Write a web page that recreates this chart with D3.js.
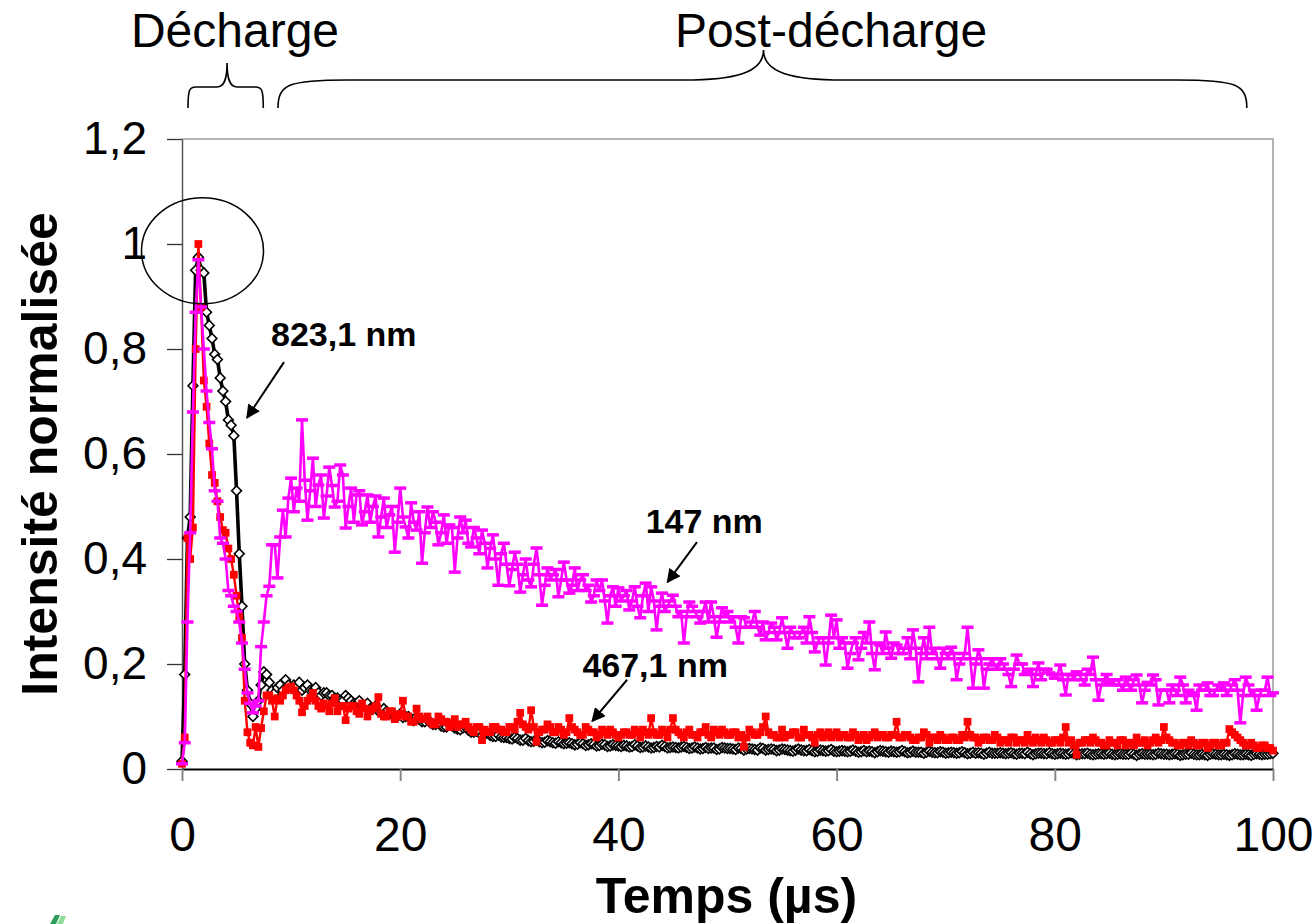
<!DOCTYPE html>
<html><head><meta charset="utf-8">
<script src="https://cdn.jsdelivr.net/npm/d3@7"></script>
<style>
body{margin:0;background:#fff}
svg{display:block}
text{font-family:"Liberation Sans",Arial,Helvetica,sans-serif}
</style>
</head><body>
<svg id="chart" width="1315" height="924"></svg>
<script>
// ---------- DATA ----------
const timeUs = [
0,0.25,0.5,0.75,1,1.25,1.5,1.75,2,2.25,2.5,2.75,3,3.25,3.5,3.75,4,4.25,4.5,4.75,
5,5.25,5.5,5.75,6,6.25,6.5,6.75,7,7.25,7.5,7.75,8,8.25,8.5,8.75,9,9.25,9.5,9.75,10,
10.25,10.5,10.75,11,11.25,11.5,11.75,12,12.25,12.5,12.75,13,13.25,13.5,13.75,14,14.25,14.5,14.75,15,
15.25,15.5,15.75,16,16.25,16.5,16.75,17,17.25,17.5,17.75,18,18.25,18.5,18.75,19,19.25,19.5,19.75,20,
20.25,20.5,20.75,21,21.25,21.5,21.75,22,22.25,22.5,22.75,23,23.25,23.5,23.75,24,24.25,24.5,24.75,25,
25.25,25.5,25.75,26,26.25,26.5,26.75,27,27.25,27.5,27.75,28,28.25,28.5,28.75,29,29.25,29.5,29.75,30,
30.25,30.5,30.75,31,31.25,31.5,31.75,32,32.25,32.5,32.75,33,33.25,33.5,33.75,34,34.25,34.5,34.75,35,
35.25,35.5,35.75,36,36.25,36.5,36.75,37,37.25,37.5,37.75,38,38.25,38.5,38.75,39,39.25,39.5,39.75,40,
40.25,40.5,40.75,41,41.25,41.5,41.75,42,42.25,42.5,42.75,43,43.25,43.5,43.75,44,44.25,44.5,44.75,45,
45.25,45.5,45.75,46,46.25,46.5,46.75,47,47.25,47.5,47.75,48,48.25,48.5,48.75,49,49.25,49.5,49.75,50,
50.25,50.5,50.75,51,51.25,51.5,51.75,52,52.25,52.5,52.75,53,53.25,53.5,53.75,54,54.25,54.5,54.75,55,
55.25,55.5,55.75,56,56.25,56.5,56.75,57,57.25,57.5,57.75,58,58.25,58.5,58.75,59,59.25,59.5,59.75,60,
60.25,60.5,60.75,61,61.25,61.5,61.75,62,62.25,62.5,62.75,63,63.25,63.5,63.75,64,64.25,64.5,64.75,65,
65.25,65.5,65.75,66,66.25,66.5,66.75,67,67.25,67.5,67.75,68,68.25,68.5,68.75,69,69.25,69.5,69.75,70,
70.25,70.5,70.75,71,71.25,71.5,71.75,72,72.25,72.5,72.75,73,73.25,73.5,73.75,74,74.25,74.5,74.75,75,
75.25,75.5,75.75,76,76.25,76.5,76.75,77,77.25,77.5,77.75,78,78.25,78.5,78.75,79,79.25,79.5,79.75,80,
80.25,80.5,80.75,81,81.25,81.5,81.75,82,82.25,82.5,82.75,83,83.25,83.5,83.75,84,84.25,84.5,84.75,85,
85.25,85.5,85.75,86,86.25,86.5,86.75,87,87.25,87.5,87.75,88,88.25,88.5,88.75,89,89.25,89.5,89.75,90,
90.25,90.5,90.75,91,91.25,91.5,91.75,92,92.25,92.5,92.75,93,93.25,93.5,93.75,94,94.25,94.5,94.75,95,
95.25,95.5,95.75,96,96.25,96.5,96.75,97,97.25,97.5,97.75,98,98.25,98.5,98.75,99,99.25,99.5,99.75,100
];

// 823,1 nm (black, hollow diamonds)
const line823 = [
0.015,0.18,0.44,0.48,0.73,0.95,0.975,0.95,0.945,0.87,0.845,0.82,0.79,0.78,0.745,0.72,0.70,0.665,0.655,0.635,
0.53,0.41,0.31,0.20,0.15,0.125,0.10,0.115,0.13,0.16,0.185,0.18,0.165,0.15,0.145,0.155,0.16,0.15,0.17,0.16,0.155,
0.16,0.155,0.165,0.15,0.155,0.16,0.15,0.15,0.155,0.145,0.14,0.145,0.145,0.14,0.14,0.135,0.135,0.13,0.13,0.14,
0.135,0.13,0.125,0.125,0.13,0.12,0.12,0.125,0.115,0.115,0.12,0.11,0.11,0.115,0.11,0.105,0.105,0.1,0.1,0.105,
0.098,0.1,0.1,0.095,0.092,0.1,0.095,0.09,0.09,0.095,0.088,0.085,0.085,0.09,0.082,0.08,0.08,0.085,0.082,0.078,
0.076,0.075,0.078,0.08,0.074,0.07,0.07,0.072,0.068,0.065,0.066,0.068,0.064,0.062,0.062,0.065,0.061,0.06,0.06,0.058,
0.057,0.06,0.058,0.055,0.055,0.058,0.054,0.052,0.053,0.056,0.052,0.05,0.051,0.054,0.052,0.05,0.049,0.052,0.05,0.048,
0.049,0.05,0.048,0.046,0.047,0.05,0.048,0.045,0.046,0.048,0.047,0.044,0.045,0.047,0.046,0.043,0.044,0.046,0.045,0.044,
0.043,0.045,0.044,0.042,0.043,0.046,0.044,0.041,0.042,0.044,0.042,0.04,0.041,0.043,0.042,0.045,0.043,0.04,0.041,0.042,
0.041,0.04,0.042,0.043,0.041,0.039,0.04,0.042,0.04,0.038,0.039,0.041,0.039,0.04,0.04,0.037,0.038,0.041,0.04,0.039,
0.039,0.038,0.037,0.04,0.039,0.036,0.038,0.039,0.038,0.037,0.036,0.04,0.039,0.036,0.037,0.038,0.037,0.035,0.036,0.038,
0.037,0.036,0.035,0.034,0.036,0.038,0.036,0.035,0.035,0.037,0.035,0.033,0.034,0.036,0.035,0.034,0.035,0.037,0.034,0.033,
0.034,0.035,0.034,0.033,0.034,0.036,0.034,0.032,0.033,0.035,0.033,0.034,0.033,0.031,0.033,0.035,0.034,0.033,0.032,0.034,
0.033,0.032,0.033,0.035,0.033,0.031,0.032,0.034,0.032,0.032,0.032,0.03,0.032,0.034,0.032,0.031,0.031,0.033,0.032,0.03,
0.031,0.032,0.031,0.03,0.031,0.033,0.031,0.029,0.03,0.032,0.03,0.031,0.03,0.028,0.03,0.032,0.03,0.03,0.03,0.031,
0.03,0.029,0.03,0.031,0.029,0.028,0.03,0.03,0.029,0.032,0.029,0.027,0.029,0.03,0.03,0.029,0.029,0.031,0.029,0.028,
0.029,0.03,0.029,0.028,0.029,0.031,0.029,0.027,0.028,0.029,0.029,0.03,0.028,0.027,0.028,0.029,0.029,0.028,0.029,0.03,
0.028,0.027,0.028,0.029,0.028,0.028,0.028,0.03,0.028,0.026,0.028,0.029,0.028,0.028,0.028,0.027,0.028,0.03,0.029,0.028,
0.028,0.027,0.028,0.029,0.028,0.026,0.027,0.028,0.028,0.03,0.028,0.027,0.027,0.028,0.027,0.026,0.028,0.029,0.028,0.027,
0.027,0.028,0.027,0.026,0.027,0.029,0.028,0.027,0.027,0.028,0.027,0.026,0.028,0.029,0.028,0.027,0.028,0.028,0.029,0.03
];

// 467,1 nm (red, filled squares)
const line467 = [
0.01,0.06,0.44,0.40,0.46,0.80,1.0,0.88,0.74,0.69,0.62,0.56,0.545,0.51,0.48,0.455,0.45,0.42,0.40,0.37,
0.33,0.29,0.25,0.13,0.07,0.05,0.045,0.08,0.042,0.078,0.11,0.14,0.14,0.13,0.10,0.135,0.13,0.14,0.15,0.155,0.157,
0.15,0.14,0.13,0.108,0.12,0.13,0.135,0.145,0.13,0.12,0.115,0.125,0.12,0.11,0.125,0.135,0.11,0.12,0.12,0.093,
0.115,0.12,0.12,0.11,0.105,0.125,0.115,0.10,0.11,0.115,0.12,0.137,0.105,0.10,0.1,0.11,0.11,0.095,0.1,0.105,
0.13,0.10,0.1,0.09,0.09,0.115,0.1,0.095,0.095,0.10,0.09,0.085,0.085,0.10,0.095,0.09,0.09,0.08,0.085,0.095,
0.08,0.085,0.085,0.09,0.08,0.075,0.07,0.08,0.08,0.055,0.075,0.07,0.07,0.08,0.08,0.075,0.075,0.07,0.07,0.08,
0.08,0.075,0.09,0.107,0.085,0.08,0.075,0.112,0.08,0.052,0.07,0.075,0.075,0.085,0.08,0.07,0.07,0.08,0.075,0.065,
0.07,0.097,0.08,0.075,0.07,0.065,0.065,0.08,0.075,0.07,0.07,0.06,0.065,0.075,0.07,0.065,0.075,0.07,0.065,0.06,
0.065,0.07,0.07,0.065,0.065,0.075,0.07,0.06,0.075,0.07,0.065,0.097,0.07,0.065,0.065,0.075,0.07,0.06,0.075,0.097,
0.075,0.07,0.065,0.06,0.07,0.075,0.065,0.065,0.06,0.07,0.07,0.08,0.065,0.06,0.075,0.07,0.065,0.075,0.07,0.065,
0.065,0.07,0.07,0.06,0.065,0.042,0.06,0.075,0.07,0.065,0.065,0.07,0.08,0.1,0.07,0.065,0.065,0.06,0.06,0.075,
0.06,0.065,0.065,0.07,0.07,0.06,0.06,0.075,0.065,0.065,0.06,0.05,0.065,0.07,0.06,0.065,0.07,0.06,0.065,0.07,
0.06,0.065,0.065,0.06,0.06,0.07,0.065,0.055,0.06,0.065,0.055,0.06,0.065,0.07,0.06,0.065,0.065,0.06,0.06,0.065,
0.065,0.09,0.06,0.06,0.065,0.065,0.06,0.055,0.055,0.06,0.06,0.07,0.065,0.05,0.06,0.06,0.055,0.065,0.06,0.055,
0.055,0.06,0.06,0.055,0.055,0.065,0.06,0.09,0.065,0.06,0.06,0.05,0.055,0.06,0.06,0.055,0.055,0.065,0.06,0.05,
0.055,0.055,0.05,0.06,0.06,0.05,0.055,0.055,0.05,0.065,0.055,0.05,0.06,0.055,0.05,0.06,0.055,0.05,0.05,0.055,
0.055,0.05,0.06,0.08,0.05,0.055,0.045,0.027,0.05,0.05,0.055,0.055,0.05,0.06,0.055,0.05,0.05,0.045,0.045,0.055,
0.05,0.05,0.045,0.055,0.055,0.045,0.05,0.05,0.045,0.06,0.05,0.05,0.055,0.045,0.05,0.055,0.06,0.05,0.055,0.08,
0.06,0.055,0.05,0.05,0.045,0.045,0.05,0.05,0.045,0.055,0.05,0.045,0.045,0.05,0.05,0.04,0.045,0.05,0.05,0.045,
0.045,0.05,0.05,0.076,0.07,0.065,0.06,0.055,0.05,0.045,0.045,0.05,0.045,0.04,0.04,0.045,0.045,0.04,0.04,0.035
];

// 147 nm (magenta, dash markers)
const line147 = [
0.01,0.05,0.28,0.45,0.68,0.87,0.97,0.88,0.80,0.72,0.66,0.61,0.53,0.51,0.44,0.43,0.40,0.34,0.33,0.31,
0.30,0.28,0.24,0.19,0.145,0.125,0.107,0.12,0.13,0.233,0.28,0.33,0.348,0.427,0.427,0.364,0.442,0.493,0.442,0.516,0.554,
0.49,0.535,0.51,0.665,0.55,0.474,0.53,0.592,0.50,0.541,0.56,0.478,0.52,0.575,0.54,0.499,0.51,0.579,0.56,0.459,
0.50,0.535,0.47,0.522,0.53,0.465,0.49,0.522,0.47,0.50,0.52,0.442,0.48,0.516,0.46,0.484,0.50,0.413,0.47,0.535,
0.48,0.461,0.44,0.507,0.47,0.455,0.49,0.392,0.45,0.499,0.46,0.49,0.47,0.427,0.45,0.484,0.43,0.465,0.46,0.375,
0.44,0.48,0.45,0.474,0.43,0.423,0.46,0.44,0.41,0.455,0.43,0.383,0.42,0.446,0.40,0.35,0.41,0.43,0.39,0.349,
0.38,0.413,0.39,0.337,0.37,0.40,0.36,0.347,0.39,0.421,0.37,0.312,0.35,0.383,0.36,0.37,0.38,0.328,0.36,0.394,
0.36,0.335,0.35,0.383,0.34,0.36,0.37,0.34,0.35,0.318,0.33,0.36,0.34,0.36,0.32,0.278,0.33,0.347,0.31,0.345,
0.32,0.33,0.34,0.303,0.32,0.347,0.31,0.288,0.33,0.354,0.30,0.347,0.32,0.265,0.31,0.335,0.30,0.31,0.32,0.331,
0.31,0.29,0.30,0.24,0.29,0.318,0.31,0.30,0.29,0.278,0.30,0.318,0.28,0.318,0.29,0.251,0.28,0.307,0.29,0.30,
0.28,0.29,0.27,0.24,0.29,0.288,0.27,0.27,0.28,0.30,0.27,0.255,0.28,0.246,0.26,0.278,0.27,0.246,0.26,0.288,
0.26,0.23,0.27,0.26,0.25,0.25,0.26,0.27,0.24,0.29,0.26,0.223,0.24,0.25,0.25,0.198,0.24,0.293,0.25,0.284,
0.23,0.25,0.24,0.192,0.22,0.24,0.25,0.208,0.23,0.26,0.24,0.28,0.22,0.189,0.24,0.236,0.22,0.261,0.23,0.211,
0.24,0.236,0.22,0.22,0.23,0.25,0.21,0.265,0.23,0.166,0.22,0.25,0.21,0.27,0.22,0.23,0.21,0.192,0.23,0.22,
0.21,0.232,0.22,0.17,0.20,0.21,0.22,0.27,0.21,0.154,0.20,0.227,0.21,0.154,0.19,0.20,0.21,0.198,0.19,0.21,
0.20,0.19,0.18,0.157,0.19,0.217,0.20,0.20,0.18,0.185,0.19,0.157,0.18,0.202,0.17,0.19,0.19,0.183,0.18,0.173,
0.18,0.198,0.17,0.141,0.18,0.18,0.17,0.185,0.18,0.17,0.16,0.19,0.18,0.213,0.17,0.131,0.16,0.17,0.18,0.165,
0.16,0.17,0.17,0.16,0.15,0.175,0.16,0.15,0.17,0.179,0.16,0.126,0.15,0.165,0.16,0.179,0.17,0.122,0.15,0.15,
0.15,0.126,0.16,0.15,0.14,0.175,0.16,0.126,0.15,0.145,0.14,0.112,0.16,0.15,0.15,0.164,0.14,0.14,0.15,0.16,
0.15,0.164,0.14,0.15,0.16,0.17,0.15,0.088,0.14,0.175,0.16,0.14,0.15,0.112,0.14,0.15,0.15,0.175,0.14,0.145
];

const xTicks = [0,20,40,60,80,100];
const yTicks = [0,0.2,0.4,0.6,0.8,1,1.2];
const yTickLabels = ["0","0,2","0,4","0,6","0,8","1","1,2"];
const xTitle = "Temps (µs)";
const yTitle = "Intensité normalisée";
const seriesLabels = ["823,1 nm","147 nm","467,1 nm"];
const phaseLabels = ["Décharge","Post-décharge"];

// ---------- CHART ----------
const svg = d3.select("#chart");
const x = d3.scaleLinear().domain([0,100]).range([182,1273]);
const y = d3.scaleLinear().domain([0,1.2]).range([769,139]);
const FONT = '"Liberation Sans",Arial,sans-serif';

// plot frame (top & right, grey)
svg.append("path")
  .attr("d", `M${x(0)},${y(1.2)}H${x(100)}V${y(0)}`)
  .attr("fill","none").attr("stroke","#9a9a9a").attr("stroke-width",1.5);

// Y axis
const yAxis = svg.append("g").attr("transform",`translate(${x(0)},0)`)
  .call(d3.axisLeft(y).tickValues(yTicks).tickSize(15).tickSizeOuter(0).tickPadding(20)
        .tickFormat((d,i)=>yTickLabels[i]));
yAxis.select(".domain").attr("stroke","#555").attr("stroke-width",1.5);
yAxis.selectAll(".tick line").attr("stroke","#333").attr("stroke-width",1.3);
yAxis.selectAll("text").attr("font-size",46).attr("fill","#000").attr("font-family",FONT);

// X axis
const xAxis = svg.append("g").attr("transform",`translate(0,${y(0)})`)
  .call(d3.axisBottom(x).tickValues(xTicks).tickSize(12).tickSizeOuter(0).tickPadding(36)
        .tickFormat(d=>String(d)));
xAxis.select(".domain").attr("stroke","#000").attr("stroke-width",1.8);
xAxis.selectAll(".tick line").attr("stroke","#888").attr("stroke-width",2);
xAxis.selectAll("text").attr("font-size",48).attr("fill","#000").attr("font-family",FONT);

// Axis titles
svg.append("text").attr("x",(x(0)+x(100))/2 - 1).attr("y",913)
  .attr("text-anchor","middle").attr("font-size",50).attr("font-weight","bold").text(xTitle);
svg.append("text").attr("transform",`translate(57,${(y(0)+y(1.2))/2}) rotate(-90)`)
  .attr("text-anchor","middle").attr("font-size",50).attr("font-weight","bold").text(yTitle);

// Series
function pts(vals){ return timeUs.map((t,i)=>({t:t,v:vals[i]})); }
const lineGen = d3.line().x(d=>x(d.t)).y(d=>y(d.v));

// black 823,1 nm
const dB = pts(line823);
svg.append("path").datum(dB).attr("d",lineGen).attr("fill","none")
  .attr("stroke","#000").attr("stroke-width",3.6).attr("stroke-linejoin","round");
svg.append("g").selectAll("path").data(dB).join("path")
  .attr("d", d3.symbol(d3.symbolSquare, 48)())
  .attr("transform", d=>`translate(${x(d.t)},${y(d.v)}) rotate(45)`)
  .attr("fill","#fff").attr("stroke","#000").attr("stroke-width",1.6);

// red 467,1 nm
const dR = pts(line467);
svg.append("path").datum(dR).attr("d",lineGen).attr("fill","none")
  .attr("stroke","#ff0000").attr("stroke-width",2.4).attr("stroke-linejoin","round");
svg.append("g").selectAll("path").data(dR).join("path")
  .attr("d", d3.symbol(d3.symbolSquare, 60)())
  .attr("transform", d=>`translate(${x(d.t)},${y(d.v)})`)
  .attr("fill","#ff0000");

// magenta 147 nm
const dM = pts(line147);
svg.append("path").datum(dM).attr("d",lineGen).attr("fill","none")
  .attr("stroke","#ff00ff").attr("stroke-width",2.6).attr("stroke-linejoin","round");
svg.append("g").selectAll("rect").data(dM).join("rect")
  .attr("x", d=>x(d.t)-6).attr("y", d=>y(d.v)-1.75)
  .attr("width",12).attr("height",3.5).attr("fill","#ff00ff");

// ---------- ANNOTATIONS ----------
svg.append("defs").append("marker").attr("id","arr")
  .attr("viewBox","0 0 10 10").attr("refX",9).attr("refY",5)
  .attr("markerWidth",7).attr("markerHeight",7).attr("orient","auto")
  .append("path").attr("d","M0,0L10,5L0,10z").attr("fill","#000");

function arrow(t1,v1,t2,v2){
  svg.append("line").attr("x1",x(t1)).attr("y1",y(v1)).attr("x2",x(t2)).attr("y2",y(v2))
    .attr("stroke","#000").attr("stroke-width",2).attr("marker-end","url(#arr)");
}
arrow(9.35,0.775,5.96,0.669);
arrow(47.2,0.432,44.5,0.356);
arrow(40.8,0.170,37.6,0.091);

const labelPos = [[8.16,0.806],[42.5,0.449],[36.7,0.175]];
seriesLabels.forEach((s,i)=>{
  svg.append("text").attr("x",x(labelPos[i][0])).attr("y",y(labelPos[i][1]))
    .attr("font-size",34).attr("font-weight","bold").text(s);
});

// ellipse around the peak
svg.append("ellipse").attr("cx",x(1.88)).attr("cy",y(0.987)).attr("rx",61).attr("ry",53)
  .attr("fill","none").attr("stroke","#000").attr("stroke-width",1.5);

// braces
function brace(x1,x2,xm,yEnd,yH,yTip,r,r2){
  return `M${x1},${yEnd} C${x1},${yH+(yEnd-yH)*0.15} ${x1+r*0.15},${yH} ${x1+r},${yH} `+
         `L${xm-r2},${yH} C${xm-r2*0.35},${yH} ${xm},${yH-(yH-yTip)*0.25} ${xm},${yTip} `+
         `C${xm},${yH-(yH-yTip)*0.25} ${xm+r2*0.35},${yH} ${xm+r2},${yH} `+
         `L${x2-r},${yH} C${x2-r*0.15},${yH} ${x2},${yH+(yEnd-yH)*0.15} ${x2},${yEnd}`;
}
svg.append("path").attr("d",brace(x(0.55),x(7.45),x(4.13),108,87,63,8,10))
  .attr("fill","none").attr("stroke","#000").attr("stroke-width",1.6);
svg.append("path").attr("d",brace(x(8.8),x(97.6),x(53.3),108,80,50,70,80))
  .attr("fill","none").attr("stroke","#000").attr("stroke-width",1.6);

svg.append("text").attr("x",235).attr("y",47).attr("text-anchor","middle")
  .attr("font-size",48).text(phaseLabels[0]);
svg.append("text").attr("x",831).attr("y",47).attr("text-anchor","middle")
  .attr("font-size",48).text(phaseLabels[1]);

// small logo fragment at bottom-left
svg.append("polygon").attr("points","50,924 55,915 60,915 56,924").attr("fill","#2e9e5e");
svg.append("polygon").attr("points","57,924 61,916 66,916 63,924").attr("fill","#8fdc9a");
</script>
</body></html>
